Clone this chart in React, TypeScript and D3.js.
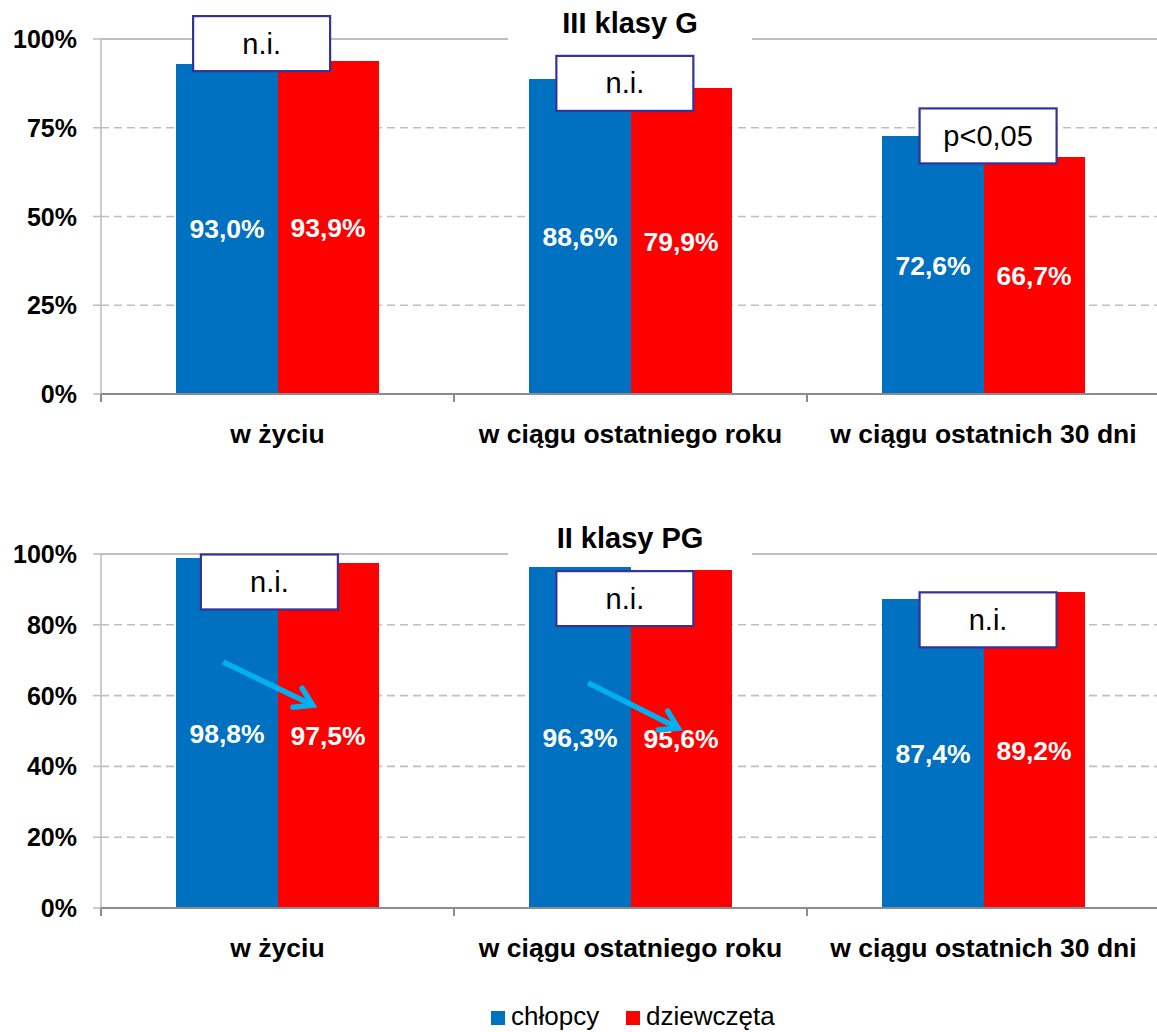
import React from 'react';
import * as d3 from 'd3';

const categories = ['w życiu', 'w ciągu ostatniego roku', 'w ciągu ostatnich 30 dni'];
const seriesNames = ['chłopcy', 'dziewczęta'];
const seriesColors = ['#0070C0', '#FF0000'];

const topTitle = 'III klasy G';
const topBoys = [93.0, 88.6, 72.6];
const topGirls = [93.9, 86.2, 66.7];
const topBoysLabels = ['93,0%', '88,6%', '72,6%'];
const topGirlsLabels = ['93,9%', '79,9%', '66,7%'];
const topTicks = [0, 25, 50, 75, 100];
const topNotes = ['n.i.', 'n.i.', 'p<0,05'];

const bottomTitle = 'II klasy PG';
const bottomBoys = [98.8, 96.3, 87.4];
const bottomGirls = [97.5, 95.6, 89.2];
const bottomBoysLabels = ['98,8%', '96,3%', '87,4%'];
const bottomGirlsLabels = ['97,5%', '95,6%', '89,2%'];
const bottomTicks = [0, 20, 40, 60, 80, 100];
const bottomNotes = ['n.i.', 'n.i.', 'n.i.'];

// annotation anchors: [fraction of category band, value in %]
const topNoteAnchors = [[0.455, 98.7], [0.484, 87.5], [0.513, 72.7]];
const bottomNoteAnchors = [[0.477, 92.1], [0.484, 87.4], [0.513, 81.4]];
const bottomArrows = [
  { cat: 0, from: [0.346, 69.5], to: [0.6, 57.3] },
  { cat: 1, from: [0.38, 63.6], to: [0.635, 50.8] },
];

const FONT = 'Liberation Sans, Arial, Helvetica, sans-serif';
const W = 1157;
const H = 1032;
const X0 = 101;
const X1 = 1160;

type PanelProps = {
  title: string;
  boys: number[];
  girls: number[];
  boysLabels: string[];
  girlsLabels: string[];
  ticks: number[];
  notes: string[];
  noteAnchors: number[][];
  arrows: { cat: number; from: number[]; to: number[] }[];
  y0: number;
  y100: number;
  titleBaseline: number;
};

function Panel(p: PanelProps) {
  const x = d3.scaleBand<string>().domain(categories).range([X0, X1]).paddingInner(0).paddingOuter(0);
  const xs = d3.scaleBand<string>().domain(seriesNames).range([0, x.bandwidth()]).paddingInner(0).paddingOuter(0.7475);
  const y = d3.scaleLinear().domain([0, 100]).range([p.y0, p.y100]);
  const values = [p.boys, p.girls];
  const labels = [p.boysLabels, p.girlsLabels];
  const bw = x.bandwidth();
  const px = (cat: number, f: number) => (x(categories[cat]) as number) + f * bw;
  const titleCx = 630;
  const boxW = 137;
  const boxH = 55;

  const arrowEls = p.arrows.map((a, i) => {
    const sx = px(a.cat, a.from[0]);
    const sy = y(a.from[1]);
    const tx = px(a.cat, a.to[0]);
    const ty = y(a.to[1]);
    const ang = Math.atan2(ty - sy, tx - sx);
    const wl = 20;
    const spread = (32 * Math.PI) / 180;
    const w1 = [tx - wl * Math.cos(ang - spread), ty - wl * Math.sin(ang - spread)];
    const w2 = [tx - wl * Math.cos(ang + spread), ty - wl * Math.sin(ang + spread)];
    const lineEnd = [tx - 3 * Math.cos(ang), ty - 3 * Math.sin(ang)];
    return (
      <g key={'ar' + i} stroke="#00B0F0" strokeWidth={5.5} fill="none">
        <line x1={sx} y1={sy} x2={lineEnd[0]} y2={lineEnd[1]} strokeLinecap="butt" />
        <polyline
          points={`${w1[0]},${w1[1]} ${tx},${ty} ${w2[0]},${w2[1]}`}
          strokeLinejoin="miter"
          strokeLinecap="round"
        />
      </g>
    );
  });

  return (
    <g>
      {p.ticks.map((t) => (
        <line
          key={'g' + t}
          x1={X0}
          x2={X1}
          y1={y(t)}
          y2={y(t)}
          stroke="#BFBFBF"
          strokeWidth={t === 100 ? 2 : 1.6}
          strokeDasharray={t === 100 || t === 0 ? undefined : '8,5'}
        />
      ))}
      <line x1={X0} x2={X0} y1={y(0)} y2={y(100)} stroke="#BFBFBF" strokeWidth={1.6} />
      {p.ticks.map((t) => (
        <g key={'yt' + t}>
          <line x1={X0 - 8} x2={X0} y1={y(t)} y2={y(t)} stroke="#BFBFBF" strokeWidth={1.6} />
          <text
            x={77}
            y={y(t)}
            dy="0.36em"
            textAnchor="end"
            fontFamily={FONT}
            fontWeight="bold"
            fontSize={25}
            fill="#000"
          >
            {t}%
          </text>
        </g>
      ))}
      {categories.map((c, ci) =>
        seriesNames.map((s, si) => {
          const v = values[si][ci];
          const bx = (x(c) as number) + (xs(s) as number);
          return (
            <rect
              key={'b' + ci + si}
              x={bx}
              y={y(v)}
              width={xs.bandwidth() + (si === 0 ? 0.6 : 0)}
              height={y(0) - y(v)}
              fill={seriesColors[si]}
              shapeRendering="crispEdges"
            />
          );
        })
      )}
      {categories.map((c, ci) =>
        seriesNames.map((s, si) => {
          const v = values[si][ci];
          const bx = (x(c) as number) + (xs(s) as number) + xs.bandwidth() / 2;
          return (
            <text
              key={'l' + ci + si}
              x={bx}
              y={(y(v) + y(0)) / 2}
              dy="0.36em"
              textAnchor="middle"
              fontFamily={FONT}
              fontWeight="bold"
              fontSize={26.5}
              fill="#FFFFFF"
            >
              {labels[si][ci]}
            </text>
          );
        })
      )}
      <line x1={X0} x2={X1} y1={y(0)} y2={y(0)} stroke="#8C8C8C" strokeWidth={2} />
      {[0, 1, 2, 3].map((i) => (
        <line key={'xt' + i} x1={X0 + i * bw} x2={X0 + i * bw} y1={y(0)} y2={y(0) + 8} stroke="#8C8C8C" strokeWidth={2} />
      ))}
      {categories.map((c) => (
        <text
          key={'c' + c}
          x={(x(c) as number) + bw / 2}
          y={y(0) + 49}
          textAnchor="middle"
          fontFamily={FONT}
          fontWeight="bold"
          fontSize={26.5}
          fill="#000"
        >
          {c}
        </text>
      ))}
      <rect x={508} y={p.titleBaseline - 28} width={244} height={36} fill="#FFFFFF" />
      <text x={titleCx} y={p.titleBaseline} textAnchor="middle" fontFamily={FONT} fontWeight="bold" fontSize={29} fill="#000">
        {p.title}
      </text>
      {arrowEls}
      {p.notes.map((n, i) => {
        const cx = px(i, p.noteAnchors[i][0]);
        const cy = y(p.noteAnchors[i][1]);
        return (
          <g key={'n' + i}>
            <rect x={cx - boxW / 2} y={cy - boxH / 2} width={boxW} height={boxH} fill="#FFFFFF" stroke="#333399" strokeWidth={2.2} />
            <text x={cx} y={cy + 10} textAnchor="middle" fontFamily={FONT} fontSize={29} fill="#000">
              {n}
            </text>
          </g>
        );
      })}
    </g>
  );
}

export default function App() {
  return (
    <svg
      width={W}
      height={H}
      viewBox={`0 0 ${W} ${H}`}
      style={{ position: 'absolute', left: 0, top: 0, background: '#FFFFFF' }}
    >
      <rect x={0} y={0} width={W} height={H} fill="#FFFFFF" />
      <Panel
        title={topTitle}
        boys={topBoys}
        girls={topGirls}
        boysLabels={topBoysLabels}
        girlsLabels={topGirlsLabels}
        ticks={topTicks}
        notes={topNotes}
        noteAnchors={topNoteAnchors}
        arrows={[]}
        y0={394}
        y100={39}
        titleBaseline={33}
      />
      <Panel
        title={bottomTitle}
        boys={bottomBoys}
        girls={bottomGirls}
        boysLabels={bottomBoysLabels}
        girlsLabels={bottomGirlsLabels}
        ticks={bottomTicks}
        notes={bottomNotes}
        noteAnchors={bottomNoteAnchors}
        arrows={bottomArrows}
        y0={908}
        y100={554}
        titleBaseline={548}
      />
      {seriesNames.map((s, i) => {
        const lx = [491, 626][i];
        return (
          <g key={'lg' + s}>
            <rect x={lx} y={1011} width={14} height={14} fill={seriesColors[i]} />
            <text x={lx + 20} y={1025} fontFamily={FONT} fontSize={26} fill="#000">
              {s}
            </text>
          </g>
        );
      })}
    </svg>
  );
}
